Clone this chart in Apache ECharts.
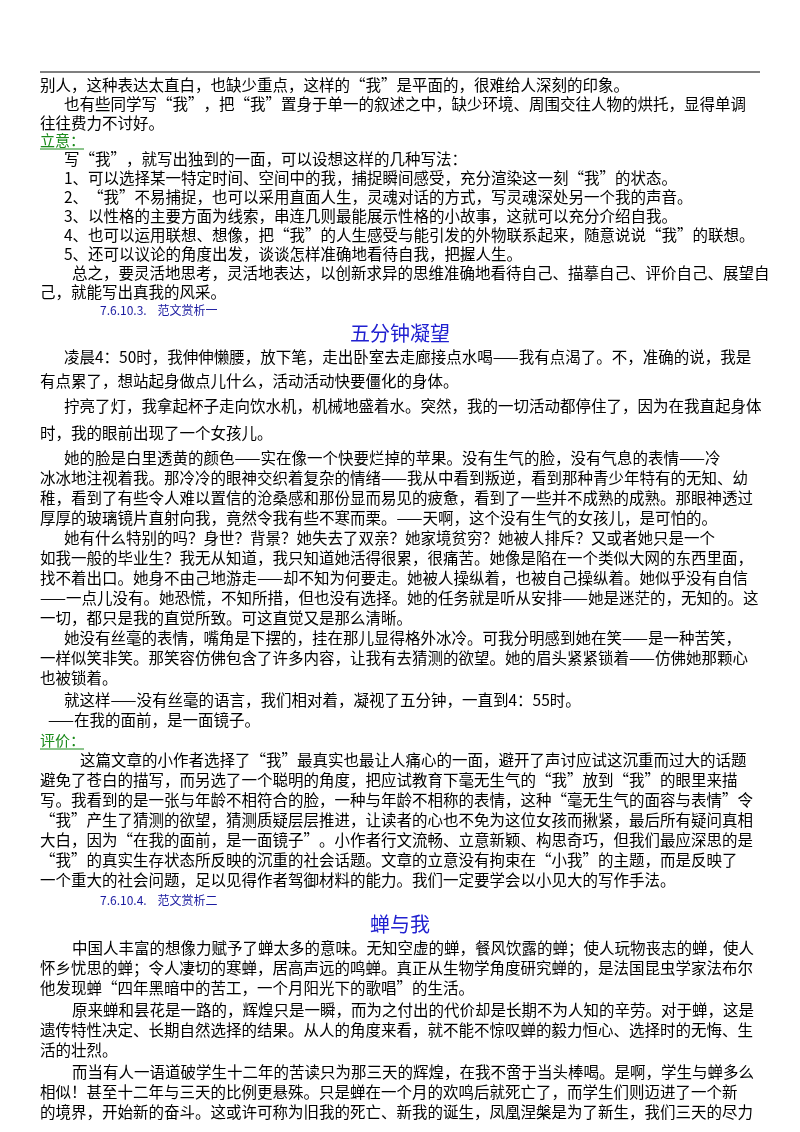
<!DOCTYPE html>
<html>
<head>
<meta charset="utf-8">
<script src="https://cdn.jsdelivr.net/npm/echarts@6/dist/echarts.min.js"></script>
<style>html,body{margin:0;padding:0;background:#fff}#page{width:800px;height:1132px}</style>
</head>
<body>
<div id="page"></div>
<script>
// 每一行：[y, x, 文本, 类型]  类型: b 正文, g 绿色小标题, n 蓝色编号, t 蓝色标题
var lines = [
    [85, 40, '别人，这种表达太直白，也缺少重点，这样的“我”是平面的，很难给人深刻的印象。', 'b'],
    [104, 64, '也有些同学写“我”，把“我”置身于单一的叙述之中，缺少环境、周围交往人物的烘托，显得单调', 'b'],
    [123, 40, '往往费力不讨好。', 'b'],
    [140, 40, '立意：', 'g'],
    [159, 64, '写“我”，就写出独到的一面，可以设想这样的几种写法：', 'b'],
    [178, 64, '1、可以选择某一特定时间、空间中的我，捕捉瞬间感受，充分渲染这一刻“我”的状态。', 'b'],
    [197, 64, '2、“我”不易捕捉，也可以采用直面人生，灵魂对话的方式，写灵魂深处另一个我的声音。', 'b'],
    [216, 64, '3、以性格的主要方面为线索，串连几则最能展示性格的小故事，这就可以充分介绍自我。', 'b'],
    [235, 64, '4、也可以运用联想、想像，把“我”的人生感受与能引发的外物联系起来，随意说说“我”的联想。', 'b'],
    [254, 64, '5、还可以议论的角度出发，谈谈怎样准确地看待自我，把握人生。', 'b'],
    [273, 72, '总之，要灵活地思考，灵活地表达，以创新求异的思维准确地看待自己、描摹自己、评价自己、展望自', 'b'],
    [292, 40, '己，就能写出真我的风采。', 'b'],
    [310, 100, '7.6.10.3.    范文赏析一', 'n'],
    [333, 400, '五分钟凝望', 't'],
    [357, 64, '凌晨4：50时，我伸伸懒腰，放下笔，走出卧室去走廊接点水喝——我有点渴了。不，准确的说，我是', 'b'],
    [381, 40, '有点累了，想站起身做点儿什么，活动活动快要僵化的身体。', 'b'],
    [406, 64, '拧亮了灯，我拿起杯子走向饮水机，机械地盛着水。突然，我的一切活动都停住了，因为在我直起身体', 'b'],
    [433, 40, '时，我的眼前出现了一个女孩儿。', 'b'],
    [458, 64, '她的脸是白里透黄的颜色——实在像一个快要烂掉的苹果。没有生气的脸，没有气息的表情——冷', 'b'],
    [478, 40, '冰冰地注视着我。那冷冷的眼神交织着复杂的情绪——我从中看到叛逆，看到那种青少年特有的无知、幼', 'b'],
    [498, 40, '稚，看到了有些令人难以置信的沧桑感和那份显而易见的疲惫，看到了一些并不成熟的成熟。那眼神透过', 'b'],
    [518, 40, '厚厚的玻璃镜片直射向我，竟然令我有些不寒而栗。——天啊，这个没有生气的女孩儿，是可怕的。', 'b'],
    [538, 64, '她有什么特别的吗？身世？背景？她失去了双亲？她家境贫穷？她被人排斥？又或者她只是一个', 'b'],
    [558, 40, '如我一般的毕业生？我无从知道，我只知道她活得很累，很痛苦。她像是陷在一个类似大网的东西里面，', 'b'],
    [578, 40, '找不着出口。她身不由己地游走——却不知为何要走。她被人操纵着，也被自己操纵着。她似乎没有自信', 'b'],
    [598, 40, '——一点儿没有。她恐慌，不知所措，但也没有选择。她的任务就是听从安排——她是迷茫的，无知的。这', 'b'],
    [618, 40, '一切，都只是我的直觉所致。可这直觉又是那么清晰。', 'b'],
    [638, 64, '她没有丝毫的表情，嘴角是下摆的，挂在那儿显得格外冰冷。可我分明感到她在笑——是一种苦笑，', 'b'],
    [658, 40, '一样似笑非笑。那笑容仿佛包含了许多内容，让我有去猜测的欲望。她的眉头紧紧锁着——仿佛她那颗心', 'b'],
    [678, 40, '也被锁着。', 'b'],
    [700, 64, '就这样——没有丝毫的语言，我们相对着，凝视了五分钟，一直到4：55时。', 'b'],
    [720, 48, '——在我的面前，是一面镜子。', 'b'],
    [740, 40, '评价：', 'g'],
    [760, 80, '这篇文章的小作者选择了“我”最真实也最让人痛心的一面，避开了声讨应试这沉重而过大的话题', 'b'],
    [780, 40, '避免了苍白的描写，而另选了一个聪明的角度，把应试教育下毫无生气的“我”放到“我”的眼里来描', 'b'],
    [800, 40, '写。我看到的是一张与年龄不相符合的脸，一种与年龄不相称的表情，这种“毫无生气的面容与表情”令', 'b'],
    [820, 40, '“我”产生了猜测的欲望，猜测质疑层层推进，让读者的心也不免为这位女孩而揪紧，最后所有疑问真相', 'b'],
    [840, 40, '大白，因为“在我的面前，是一面镜子”。小作者行文流畅、立意新颖、构思奇巧，但我们最应深思的是', 'b'],
    [860, 40, '“我”的真实生存状态所反映的沉重的社会话题。文章的立意没有拘束在“小我”的主题，而是反映了', 'b'],
    [880, 40, '一个重大的社会问题，足以见得作者驾御材料的能力。我们一定要学会以小见大的写作手法。', 'b'],
    [900, 100, '7.6.10.4.    范文赏析二', 'n'],
    [924, 400, '蝉与我', 't'],
    [948, 72, '中国人丰富的想像力赋予了蝉太多的意味。无知空虚的蝉，餐风饮露的蝉；使人玩物丧志的蝉，使人', 'b'],
    [968, 40, '怀乡忧思的蝉；令人凄切的寒蝉，居高声远的鸣蝉。真正从生物学角度研究蝉的，是法国昆虫学家法布尔', 'b'],
    [988, 40, '他发现蝉“四年黑暗中的苦工，一个月阳光下的歌唱”的生活。', 'b'],
    [1010, 72, '原来蝉和昙花是一路的，辉煌只是一瞬，而为之付出的代价却是长期不为人知的辛劳。对于蝉，这是', 'b'],
    [1030, 40, '遗传特性决定、长期自然选择的结果。从人的角度来看，就不能不惊叹蝉的毅力恒心、选择时的无悔、生', 'b'],
    [1050, 40, '活的壮烈。', 'b'],
    [1072, 72, '而当有人一语道破学生十二年的苦读只为那三天的辉煌，在我不啻于当头棒喝。是啊，学生与蝉多么', 'b'],
    [1092, 40, '相似！甚至十二年与三天的比例更悬殊。只是蝉在一个月的欢鸣后就死亡了，而学生们则迈进了一个新', 'b'],
    [1112, 40, '的境界，开始新的奋斗。这或许可称为旧我的死亡、新我的诞生，凤凰涅槃是为了新生，我们三天的尽力', 'b']
];

var styles = {
    b: {fontSize: 15.5, fill: '#000', align: 'left'},
    g: {fontSize: 15, fill: '#1a8a1a', align: 'left'},
    n: {fontSize: 12, fill: '#1a1aa0', align: 'left'},
    t: {fontSize: 20, fill: '#2020d0', align: 'center'}
};

var chart = echarts.init(document.getElementById('page'));
var elements = [{
    type: 'line',
    shape: {x1: 40, y1: 72, x2: 760, y2: 72},
    style: {stroke: '#000', lineWidth: 1.2}
}];
lines.forEach(function (l) {
    var s = styles[l[3]];
    elements.push({
        type: 'text',
        x: l[1], y: l[0],
        style: {
            text: l[2],
            font: s.fontSize + 'px "Noto Sans CJK SC", sans-serif',
            fill: s.fill,
            textAlign: s.align,
            textVerticalAlign: 'middle'
        }
    });
    if (l[3] === 'g') {
        elements.push({
            type: 'line',
            shape: {x1: l[1], y1: l[0] + 9, x2: l[1] + 44, y2: l[0] + 9},
            style: {stroke: '#1a8a1a', lineWidth: 1}
        });
    }
});
chart.setOption({
    backgroundColor: '#fff',
    animation: false,
    graphic: {elements: elements}
});
</script>
</body>
</html>
